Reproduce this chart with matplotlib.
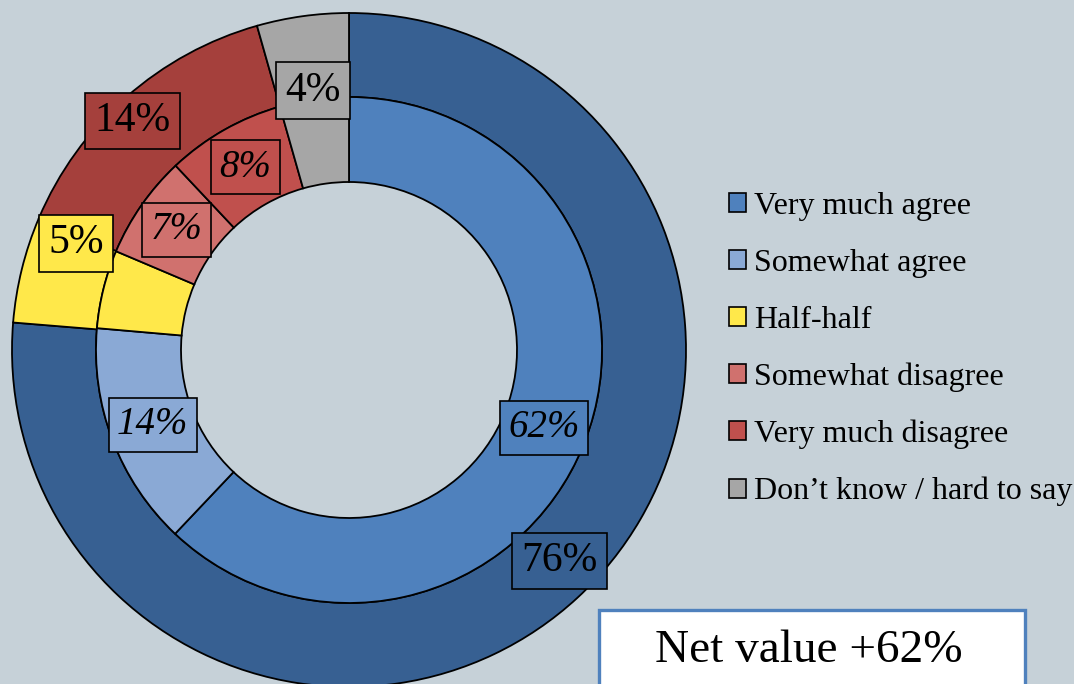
import numpy as np
import matplotlib
matplotlib.use("Agg")
import matplotlib.pyplot as plt
from matplotlib.patches import Rectangle, Patch

plt.rcParams["font.family"] = ["Liberation Serif", "DejaVu Serif"]

# data
categories = ["Very much agree", "Somewhat agree", "Half-half",
              "Somewhat disagree", "Very much disagree", "Don\u2019t know / hard to say"]
inner_values = [62.0, 14.3, 5.0, 6.6, 7.6, 4.4]
inner_labels = ["62%", "14%", "", "7%", "8%", ""]
outer_values = [76.3, 5.1, 14.2, 4.4]
outer_labels = ["76%", "5%", "14%", "4%"]
net_text = "Net value +62%"

# colours
bg = "#C6D1D8"
inner_colors = ["#4F81BD", "#8AA9D5", "#FFE84A", "#D0716E", "#C0504D", "#A6A6A6"]
outer_colors = ["#376092", "#FFE84A", "#A5403C", "#A6A6A6"]

W, H = 1074, 684
fig = plt.figure(figsize=(W / 100, H / 100), dpi=100, facecolor=bg)
cx, cy, R = 349, 350, 337
ax = fig.add_axes([(cx - R) / W, (H - cy - R) / H, 2 * R / W, 2 * R / H])
ax.set_facecolor(bg)
ax.axis("off")

r_mid = 253 / R
r_in = 168 / R
wp = dict(edgecolor="black", linewidth=1.3)

outer_w, _ = ax.pie(outer_values, radius=1.0, colors=outer_colors, startangle=90,
                    counterclock=False, wedgeprops=dict(width=1.0 - r_mid, **wp))
inner_w, _ = ax.pie(inner_values, radius=r_mid, colors=inner_colors, startangle=90,
                    counterclock=False, wedgeprops=dict(width=r_mid - r_in, **wp))
ax.set_xlim(-1, 1); ax.set_ylim(-1, 1)
ax.set_aspect("equal")

# label layout tweaks (radius, angle shift in degrees)
outer_lr = [0.885, 0.87, 0.935, 0.777]
outer_da = [2.3, -7.5, 2.0, 0]
inner_lr = [0.623] * 6

def put_labels(wedges, labels, radii, shifts, colors, style, size):
    for w, lab, r, da, c in zip(wedges, labels, radii, shifts, colors):
        if not lab:
            continue
        ang = np.deg2rad((w.theta1 + w.theta2) / 2 + da)
        ax.text(r * np.cos(ang), r * np.sin(ang), lab, ha="center", va="center",
                fontsize=size, style=style, zorder=5,
                bbox=dict(boxstyle="square,pad=0.22", facecolor=c,
                          edgecolor="black", linewidth=1.2))

put_labels(outer_w, outer_labels, outer_lr, outer_da, outer_colors, "normal", 30)
put_labels(inner_w, inner_labels, inner_lr, [0] * 6, inner_colors, "italic", 28)

# legend
handles = [Patch(facecolor=c, edgecolor="black", linewidth=1.2) for c in inner_colors]
fig.legend(handles, categories, loc="upper left", bbox_to_anchor=(729 / W, 1 - 192 / H),
           frameon=False, fontsize=23, handlelength=0.53, handleheight=0.53,
           handletextpad=0.25, labelspacing=0.87, borderpad=0, borderaxespad=0)

# net value box
fig.add_artist(Rectangle((599 / W, -0.05), (1025 - 599) / W, 0.05 + (H - 610) / H,
                         transform=fig.transFigure, facecolor="white",
                         edgecolor="#4F81BD", linewidth=2.4, clip_on=False))
fig.text(809 / W, 1 - 651 / H, net_text, ha="center", va="center", fontsize=34)

fig.savefig("out.png", dpi=100, facecolor=bg)
